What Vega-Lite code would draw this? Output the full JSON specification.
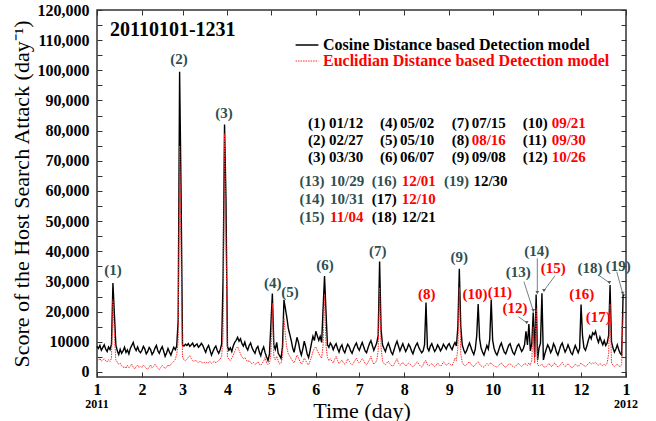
{
  "$schema": "https://vega.github.io/schema/vega-lite/v6.json",
  "width": 529,
  "height": 367,
  "autosize": {"type": "none"},
  "padding": {"left": 97, "top": 10, "right": 30, "bottom": 44},
  "background": "white",
  "config": {
    "view": {"stroke": "#333333", "strokeWidth": 1.5},
    "font": "Liberation Serif",
    "axis": {"domain": false, "grid": false, "tickColor": "#333333", "tickWidth": 1, "labelColor": "#000000", "titleColor": "#000000", "labelFont": "Liberation Serif", "titleFont": "Liberation Serif", "labelFontWeight": "bold", "labelFontSize": 16}
  },
  "datasets": {
    "series": [
{"day":0,"cos":8500,"euc":4200},{"day":1,"cos":7800,"euc":3800},{"day":2,"cos":8800,"euc":4500},{"day":3,"cos":7200,"euc":3600},{"day":4,"cos":8100,"euc":4000},{"day":5,"cos":9000,"euc":4400},{"day":6,"cos":7600,"euc":3700},{"day":7,"cos":6800,"euc":3300},{"day":8,"cos":8300,"euc":4100},{"day":9,"cos":7400,"euc":3500},
{"day":10,"cos":9200,"euc":4600},{"day":11,"cos":29500,"euc":24000},{"day":12,"cos":19000,"euc":12000},{"day":13,"cos":9000,"euc":4000},{"day":14,"cos":7000,"euc":3200},{"day":15,"cos":5800,"euc":2600},{"day":16,"cos":7500,"euc":2900},{"day":17,"cos":6200,"euc":2000},{"day":18,"cos":7000,"euc":1500},{"day":19,"cos":8200,"euc":1800},
{"day":20,"cos":6500,"euc":1200},{"day":21,"cos":7300,"euc":2200},{"day":22,"cos":6000,"euc":1400},{"day":23,"cos":7800,"euc":1900},{"day":24,"cos":8800,"euc":2600},{"day":25,"cos":9800,"euc":1600},{"day":26,"cos":8000,"euc":1000},{"day":27,"cos":7100,"euc":1800},{"day":28,"cos":8300,"euc":2300},{"day":29,"cos":7000,"euc":1500},
{"day":30,"cos":6400,"euc":2000},{"day":31,"cos":7200,"euc":1500},{"day":32,"cos":8500,"euc":2300},{"day":33,"cos":7600,"euc":1800},{"day":34,"cos":6000,"euc":1200},{"day":35,"cos":6800,"euc":900},{"day":36,"cos":8100,"euc":1600},{"day":37,"cos":7400,"euc":2400},{"day":38,"cos":5800,"euc":1300},{"day":39,"cos":6600,"euc":1800},
{"day":40,"cos":7900,"euc":2600},{"day":41,"cos":8800,"euc":2000},{"day":42,"cos":7000,"euc":1200},{"day":43,"cos":6200,"euc":800},{"day":44,"cos":7500,"euc":1500},{"day":45,"cos":8400,"euc":2200},{"day":46,"cos":6900,"euc":1700},{"day":47,"cos":5200,"euc":1100},{"day":48,"cos":6300,"euc":1600},{"day":49,"cos":7800,"euc":2400},
{"day":50,"cos":6600,"euc":1900},{"day":51,"cos":5600,"euc":2600},{"day":52,"cos":7000,"euc":3000},{"day":53,"cos":8200,"euc":3500},{"day":54,"cos":7400,"euc":4200},{"day":55,"cos":8600,"euc":5800},{"day":56,"cos":17000,"euc":10000},{"day":57,"cos":99500,"euc":75000},{"day":58,"cos":60000,"euc":41000},{"day":59,"cos":9000,"euc":5000},
{"day":60,"cos":8600,"euc":4000},{"day":61,"cos":9200,"euc":3700},{"day":62,"cos":8800,"euc":4200},{"day":63,"cos":9400,"euc":4800},{"day":64,"cos":8500,"euc":5400},{"day":65,"cos":9000,"euc":4500},{"day":66,"cos":9600,"euc":3800},{"day":67,"cos":8400,"euc":3500},{"day":68,"cos":8900,"euc":4000},{"day":69,"cos":9300,"euc":3400},
{"day":70,"cos":8200,"euc":3100},{"day":71,"cos":8700,"euc":3600},{"day":72,"cos":9500,"euc":3300},{"day":73,"cos":8800,"euc":3000},{"day":74,"cos":7600,"euc":3200},{"day":75,"cos":6500,"euc":2900},{"day":76,"cos":8000,"euc":3300},{"day":77,"cos":8800,"euc":3100},{"day":78,"cos":7200,"euc":3500},{"day":79,"cos":5600,"euc":2800},
{"day":80,"cos":6800,"euc":3200},{"day":81,"cos":7900,"euc":3600},{"day":82,"cos":8600,"euc":3000},{"day":83,"cos":7100,"euc":3400},{"day":84,"cos":6200,"euc":3900},{"day":85,"cos":7400,"euc":4200},{"day":86,"cos":9200,"euc":5200},{"day":87,"cos":31000,"euc":12000},{"day":88,"cos":82000,"euc":79000},{"day":89,"cos":57000,"euc":45000},
{"day":90,"cos":8500,"euc":5000},{"day":91,"cos":7200,"euc":4200},{"day":92,"cos":8000,"euc":3800},{"day":93,"cos":6800,"euc":4600},{"day":94,"cos":8600,"euc":5500},{"day":95,"cos":9800,"euc":6800},{"day":96,"cos":10500,"euc":7800},{"day":97,"cos":11500,"euc":8400},{"day":98,"cos":10200,"euc":7200},{"day":99,"cos":11000,"euc":6000},
{"day":100,"cos":9400,"euc":5000},{"day":101,"cos":8600,"euc":4400},{"day":102,"cos":9900,"euc":4800},{"day":103,"cos":8100,"euc":4000},{"day":104,"cos":7300,"euc":3400},{"day":105,"cos":8800,"euc":3800},{"day":106,"cos":9600,"euc":3100},{"day":107,"cos":8000,"euc":2700},{"day":108,"cos":7000,"euc":3200},{"day":109,"cos":6200,"euc":2500},
{"day":110,"cos":7800,"euc":2800},{"day":111,"cos":8500,"euc":3400},{"day":112,"cos":6600,"euc":2600},{"day":113,"cos":5400,"euc":2200},{"day":114,"cos":7200,"euc":2900},{"day":115,"cos":8300,"euc":3600},{"day":116,"cos":6400,"euc":4800},{"day":117,"cos":5000,"euc":3000},{"day":118,"cos":3800,"euc":2400},{"day":119,"cos":6000,"euc":2800},
{"day":120,"cos":16000,"euc":6000},{"day":121,"cos":26000,"euc":22800},{"day":122,"cos":9000,"euc":5000},{"day":123,"cos":7500,"euc":4000},{"day":124,"cos":9800,"euc":5200},{"day":125,"cos":6200,"euc":3800},{"day":126,"cos":5400,"euc":2600},{"day":127,"cos":4500,"euc":3000},{"day":128,"cos":8500,"euc":5000},{"day":129,"cos":23900,"euc":17800},
{"day":130,"cos":21000,"euc":12000},{"day":131,"cos":18000,"euc":8000},{"day":132,"cos":14500,"euc":6000},{"day":133,"cos":12500,"euc":5200},{"day":134,"cos":10500,"euc":4400},{"day":135,"cos":8000,"euc":3600},{"day":136,"cos":6500,"euc":3000},{"day":137,"cos":9000,"euc":4200},{"day":138,"cos":11500,"euc":5600},{"day":139,"cos":9800,"euc":4800},
{"day":140,"cos":7200,"euc":3400},{"day":141,"cos":5600,"euc":2600},{"day":142,"cos":7600,"euc":3200},{"day":143,"cos":10200,"euc":4600},{"day":144,"cos":8400,"euc":3800},{"day":145,"cos":6000,"euc":2800},{"day":146,"cos":4800,"euc":2400},{"day":147,"cos":7000,"euc":3600},{"day":148,"cos":9600,"euc":5000},{"day":149,"cos":11800,"euc":6800},
{"day":150,"cos":10400,"euc":7800},{"day":151,"cos":13500,"euc":8400},{"day":152,"cos":12000,"euc":7000},{"day":153,"cos":10500,"euc":6200},{"day":154,"cos":11800,"euc":5200},{"day":155,"cos":9800,"euc":4600},{"day":156,"cos":21000,"euc":9000},{"day":157,"cos":31800,"euc":25900},{"day":158,"cos":20000,"euc":9000},{"day":159,"cos":9000,"euc":4800},
{"day":160,"cos":8200,"euc":3800},{"day":161,"cos":9600,"euc":4400},{"day":162,"cos":8800,"euc":3600},{"day":163,"cos":7400,"euc":3000},{"day":164,"cos":8600,"euc":4200},{"day":165,"cos":9400,"euc":5200},{"day":166,"cos":7800,"euc":3800},{"day":167,"cos":6600,"euc":2800},{"day":168,"cos":8200,"euc":3400},{"day":169,"cos":9000,"euc":4000},
{"day":170,"cos":7200,"euc":3000},{"day":171,"cos":6400,"euc":2600},{"day":172,"cos":8000,"euc":3200},{"day":173,"cos":9200,"euc":4400},{"day":174,"cos":8400,"euc":3600},{"day":175,"cos":7000,"euc":2800},{"day":176,"cos":6200,"euc":2400},{"day":177,"cos":7600,"euc":3000},{"day":178,"cos":8800,"euc":3800},{"day":179,"cos":9600,"euc":4600},
{"day":180,"cos":8000,"euc":3600},{"day":181,"cos":7200,"euc":3000},{"day":182,"cos":8600,"euc":3600},{"day":183,"cos":9800,"euc":4400},{"day":184,"cos":8400,"euc":3800},{"day":185,"cos":7000,"euc":2800},{"day":186,"cos":6400,"euc":2400},{"day":187,"cos":8000,"euc":3200},{"day":188,"cos":9400,"euc":4000},{"day":189,"cos":10400,"euc":5200},
{"day":190,"cos":8800,"euc":3600},{"day":191,"cos":7200,"euc":2600},{"day":192,"cos":8400,"euc":3000},{"day":193,"cos":9600,"euc":3800},{"day":194,"cos":12000,"euc":7000},{"day":195,"cos":36600,"euc":28000},{"day":196,"cos":14000,"euc":8000},{"day":197,"cos":9000,"euc":3600},{"day":198,"cos":7800,"euc":2800},{"day":199,"cos":6800,"euc":2400},
{"day":200,"cos":8400,"euc":3000},{"day":201,"cos":9600,"euc":3600},{"day":202,"cos":8200,"euc":2800},{"day":203,"cos":6600,"euc":2200},{"day":204,"cos":5800,"euc":1900},{"day":205,"cos":7400,"euc":2600},{"day":206,"cos":9000,"euc":3400},{"day":207,"cos":10200,"euc":4400},{"day":208,"cos":8600,"euc":3000},{"day":209,"cos":7000,"euc":2200},
{"day":210,"cos":8200,"euc":2600},{"day":211,"cos":9400,"euc":3200},{"day":212,"cos":8000,"euc":2600},{"day":213,"cos":6800,"euc":2000},{"day":214,"cos":7800,"euc":2400},{"day":215,"cos":9200,"euc":3000},{"day":216,"cos":8400,"euc":2600},{"day":217,"cos":7000,"euc":2000},{"day":218,"cos":6000,"euc":1700},{"day":219,"cos":7600,"euc":2200},
{"day":220,"cos":8800,"euc":2800},{"day":221,"cos":9600,"euc":3400},{"day":222,"cos":8200,"euc":2600},{"day":223,"cos":7200,"euc":2000},{"day":224,"cos":6400,"euc":1600},{"day":225,"cos":7000,"euc":2200},{"day":226,"cos":9000,"euc":3500},{"day":227,"cos":23000,"euc":3800},{"day":228,"cos":8000,"euc":2400},{"day":229,"cos":7000,"euc":2000},
{"day":230,"cos":8600,"euc":2400},{"day":231,"cos":9400,"euc":2800},{"day":232,"cos":8000,"euc":2200},{"day":233,"cos":6800,"euc":1800},{"day":234,"cos":7600,"euc":2200},{"day":235,"cos":9000,"euc":3000},{"day":236,"cos":8200,"euc":2400},{"day":237,"cos":7000,"euc":1900},{"day":238,"cos":7800,"euc":2400},{"day":239,"cos":9200,"euc":3400},
{"day":240,"cos":8400,"euc":2800},{"day":241,"cos":7600,"euc":2200},{"day":242,"cos":8800,"euc":2600},{"day":243,"cos":9400,"euc":3000},{"day":244,"cos":8200,"euc":2400},{"day":245,"cos":7400,"euc":2200},{"day":246,"cos":8800,"euc":3200},{"day":247,"cos":9800,"euc":4600},{"day":248,"cos":8600,"euc":3800},{"day":249,"cos":15000,"euc":8000},
{"day":250,"cos":34200,"euc":28000},{"day":251,"cos":15000,"euc":6000},{"day":252,"cos":9000,"euc":3200},{"day":253,"cos":7400,"euc":2400},{"day":254,"cos":6200,"euc":2000},{"day":255,"cos":7000,"euc":2400},{"day":256,"cos":8400,"euc":3000},{"day":257,"cos":9600,"euc":3400},{"day":258,"cos":8200,"euc":2600},{"day":259,"cos":6800,"euc":2000},
{"day":260,"cos":5800,"euc":1800},{"day":261,"cos":7600,"euc":2400},{"day":262,"cos":12000,"euc":3000},{"day":263,"cos":22500,"euc":3400},{"day":264,"cos":11000,"euc":2600},{"day":265,"cos":8000,"euc":2000},{"day":266,"cos":6600,"euc":1800},{"day":267,"cos":5600,"euc":1600},{"day":268,"cos":7200,"euc":2200},{"day":269,"cos":8800,"euc":2800},
{"day":270,"cos":7600,"euc":2200},{"day":271,"cos":11000,"euc":2800},{"day":272,"cos":23900,"euc":3000},{"day":273,"cos":10500,"euc":2400},{"day":274,"cos":7800,"euc":2000},{"day":275,"cos":6400,"euc":1800},{"day":276,"cos":5600,"euc":1600},{"day":277,"cos":7000,"euc":2000},{"day":278,"cos":8600,"euc":2600},{"day":279,"cos":9600,"euc":3000},
{"day":280,"cos":8000,"euc":2400},{"day":281,"cos":6600,"euc":1800},{"day":282,"cos":6000,"euc":1600},{"day":283,"cos":7400,"euc":2000},{"day":284,"cos":8800,"euc":2600},{"day":285,"cos":9400,"euc":2800},{"day":286,"cos":7800,"euc":2200},{"day":287,"cos":6400,"euc":1800},{"day":288,"cos":5800,"euc":1600},{"day":289,"cos":7200,"euc":2000},
{"day":290,"cos":8600,"euc":2600},{"day":291,"cos":9200,"euc":2800},{"day":292,"cos":8000,"euc":2200},{"day":293,"cos":6800,"euc":1800},{"day":294,"cos":7600,"euc":2200},{"day":295,"cos":9000,"euc":2800},{"day":296,"cos":13500,"euc":2600},{"day":297,"cos":9000,"euc":2200},{"day":298,"cos":15900,"euc":3000},{"day":299,"cos":7000,"euc":2200},
{"day":300,"cos":9500,"euc":4000},{"day":301,"cos":19700,"euc":15000},{"day":302,"cos":5000,"euc":3000},{"day":303,"cos":25700,"euc":21000},{"day":304,"cos":4000,"euc":2400},{"day":305,"cos":8000,"euc":2000},{"day":306,"cos":9500,"euc":2200},{"day":307,"cos":26100,"euc":2600},{"day":308,"cos":4000,"euc":1800},{"day":309,"cos":6000,"euc":1600},
{"day":310,"cos":7600,"euc":1800},{"day":311,"cos":9000,"euc":2400},{"day":312,"cos":8000,"euc":2800},{"day":313,"cos":6400,"euc":2000},{"day":314,"cos":7400,"euc":1800},{"day":315,"cos":9400,"euc":2600},{"day":316,"cos":8400,"euc":3000},{"day":317,"cos":6600,"euc":2200},{"day":318,"cos":5600,"euc":1600},{"day":319,"cos":7200,"euc":2000},
{"day":320,"cos":8800,"euc":2600},{"day":321,"cos":9600,"euc":3200},{"day":322,"cos":8000,"euc":2400},{"day":323,"cos":6600,"euc":1800},{"day":324,"cos":7600,"euc":2200},{"day":325,"cos":9000,"euc":2800},{"day":326,"cos":7800,"euc":2200},{"day":327,"cos":6400,"euc":1600},{"day":328,"cos":5800,"euc":1400},{"day":329,"cos":7400,"euc":2000},
{"day":330,"cos":8800,"euc":2600},{"day":331,"cos":7600,"euc":2200},{"day":332,"cos":6400,"euc":1800},{"day":333,"cos":7800,"euc":2400},{"day":334,"cos":22400,"euc":3000},{"day":335,"cos":12000,"euc":2400},{"day":336,"cos":8000,"euc":2200},{"day":337,"cos":7200,"euc":1800},{"day":338,"cos":8600,"euc":2200},{"day":339,"cos":10500,"euc":2800},
{"day":340,"cos":12000,"euc":3200},{"day":341,"cos":11000,"euc":2600},{"day":342,"cos":13000,"euc":3000},{"day":343,"cos":12400,"euc":2800},{"day":344,"cos":13500,"euc":3200},{"day":345,"cos":11200,"euc":2600},{"day":346,"cos":9800,"euc":2200},{"day":347,"cos":11600,"euc":2800},{"day":348,"cos":10200,"euc":2400},{"day":349,"cos":9000,"euc":2000},
{"day":350,"cos":10400,"euc":2600},{"day":351,"cos":8800,"euc":2200},{"day":352,"cos":9600,"euc":3000},{"day":353,"cos":12000,"euc":6000},{"day":354,"cos":28800,"euc":22500},{"day":355,"cos":10000,"euc":3000},{"day":356,"cos":8000,"euc":2200},{"day":357,"cos":6600,"euc":1800},{"day":358,"cos":7600,"euc":2200},{"day":359,"cos":9000,"euc":2600},
{"day":360,"cos":7400,"euc":2000},{"day":361,"cos":6200,"euc":1800},{"day":362,"cos":5600,"euc":2400},{"day":363,"cos":25500,"euc":19700},{"day":364,"cos":25500,"euc":19700}
    ],
    "peaks": [
      {"x":11.0,"y":33800,"text":"(1)","status":"detected"},
      {"x":56.6,"y":103800,"text":"(2)","status":"detected"},
      {"x":87.6,"y":85900,"text":"(3)","status":"detected"},
      {"x":121.2,"y":29500,"text":"(4)","status":"detected"},
      {"x":133.2,"y":26500,"text":"(5)","status":"detected"},
      {"x":157.3,"y":35500,"text":"(6)","status":"detected"},
      {"x":193.7,"y":40200,"text":"(7)","status":"detected"},
      {"x":227.5,"y":25800,"text":"(8)","status":"missed"},
      {"x":250.0,"y":38000,"text":"(9)","status":"detected"},
      {"x":260.8,"y":25800,"text":"(10)","status":"missed"},
      {"x":278.0,"y":26600,"text":"(11)","status":"missed"},
      {"x":288.4,"y":21100,"text":"(12)","status":"missed"},
      {"x":290.7,"y":33200,"text":"(13)","status":"detected"},
      {"x":303.4,"y":40200,"text":"(14)","status":"detected"},
      {"x":314.8,"y":34400,"text":"(15)","status":"missed"},
      {"x":334.4,"y":25800,"text":"(16)","status":"missed"},
      {"x":345.9,"y":18100,"text":"(17)","status":"missed"},
      {"x":340.2,"y":34600,"text":"(18)","status":"detected"},
      {"x":359.7,"y":35100,"text":"(19)","status":"detected"}
    ],
    "arrows": [
      {"x":290.7,"y":18330,"x2":296.5,"y2":16340},
      {"x":294.6,"y":29930,"x2":301.0,"y2":20320},
      {"x":303.8,"y":37690,"x2":303.8,"y2":26290},
      {"x":316.0,"y":31920,"x2":308.4,"y2":26950},
      {"x":345.9,"y":32160,"x2":353.5,"y2":29600},
      {"x":358.6,"y":33250,"x2":362.7,"y2":26090}
    ],
    "dates": [
      {"x":145.6,"y":82440,"text":"(1)","status":"plain"},
      {"x":160.1,"y":82440,"text":"01/12","status":"plain"},
      {"x":145.6,"y":76910,"text":"(2)","status":"plain"},
      {"x":160.1,"y":76910,"text":"02/27","status":"plain"},
      {"x":145.6,"y":71370,"text":"(3)","status":"plain"},
      {"x":160.1,"y":71370,"text":"03/30","status":"plain"},
      {"x":195.3,"y":82440,"text":"(4)","status":"plain"},
      {"x":209.1,"y":82440,"text":"05/02","status":"plain"},
      {"x":195.3,"y":76910,"text":"(5)","status":"plain"},
      {"x":209.1,"y":76910,"text":"05/10","status":"plain"},
      {"x":195.3,"y":71370,"text":"(6)","status":"plain"},
      {"x":209.1,"y":71370,"text":"06/07","status":"plain"},
      {"x":244.7,"y":82440,"text":"(7)","status":"plain"},
      {"x":258.5,"y":82440,"text":"07/15","status":"plain"},
      {"x":244.7,"y":76910,"text":"(8)","status":"plain"},
      {"x":258.5,"y":76910,"text":"08/16","status":"missed"},
      {"x":244.7,"y":71370,"text":"(9)","status":"plain"},
      {"x":258.5,"y":71370,"text":"09/08","status":"plain"},
      {"x":293.7,"y":82440,"text":"(10)","status":"plain"},
      {"x":313.7,"y":82440,"text":"09/21","status":"missed"},
      {"x":293.7,"y":76910,"text":"(11)","status":"plain"},
      {"x":313.7,"y":76910,"text":"09/30","status":"missed"},
      {"x":293.7,"y":71370,"text":"(12)","status":"plain"},
      {"x":313.7,"y":71370,"text":"10/26","status":"missed"},
      {"x":139.7,"y":63320,"text":"(13)","status":"detected"},
      {"x":160.8,"y":63320,"text":"10/29","status":"detected"},
      {"x":139.7,"y":57250,"text":"(14)","status":"detected"},
      {"x":160.8,"y":57250,"text":"10/31","status":"detected"},
      {"x":139.7,"y":51480,"text":"(15)","status":"detected"},
      {"x":160.8,"y":51480,"text":"11/04","status":"missed"},
      {"x":189.5,"y":63320,"text":"(16)","status":"detected"},
      {"x":210.2,"y":63320,"text":"12/01","status":"missed"},
      {"x":189.5,"y":57250,"text":"(17)","status":"plain"},
      {"x":210.2,"y":57250,"text":"12/10","status":"missed"},
      {"x":189.5,"y":51480,"text":"(18)","status":"plain"},
      {"x":210.2,"y":51480,"text":"12/21","status":"plain"},
      {"x":239.4,"y":63320,"text":"(19)","status":"detected"},
      {"x":259.7,"y":63320,"text":"12/30","status":"plain"}
    ],
    "title": [{"x":9,"y":113400,"text":"20110101-1231"}],
    "years": [{"day":0,"text":"2011"},{"day":365,"text":"2012"}]
  },
  "resolve": {"scale": {"color": "independent"}, "axis": {"x": "independent", "y": "independent"}},
  "layer": [
    {
      "data": {"name": "series"},
      "transform": [{"fold": ["cos", "euc"], "as": ["model", "score"]}],
      "mark": {"type": "line", "interpolate": "linear"},
      "encoding": {
        "x": {"field": "day", "type": "quantitative", "scale": {"domain": [0, 365], "nice": false, "zero": false},
          "axis": {"orient": "bottom", "values": [0,31,59,90,120,151,181,212,243,273,304,334,365],
            "labelExpr": "indexof([0,31,59,90,120,151,181,212,243,273,304,334,365], datum.value) % 12 + 1",
            "tickSize": -5, "labelPadding": 9, "labelFontSize": 16, "labelFontWeight": "bold", "labelFlush": false,
            "title": "Time (day)", "titleFontSize": 22, "titleFontWeight": "normal", "titlePadding": 3}},
        "y": {"field": "score", "type": "quantitative", "scale": {"domain": [-1660, 120000], "nice": false, "zero": false},
          "axis": {"orient": "left", "values": [0,5000,10000,15000,20000,25000,30000,35000,40000,45000,50000,55000,60000,65000,70000,75000,80000,85000,90000,95000,100000,105000,110000,115000,120000],
            "labelExpr": "datum.value % 10000 != 0 ? '' : (datum.value == 10000 ? '10000' : format(datum.value, ','))",
            "tickSize": -5, "labelPadding": 13, "labelFontSize": 16, "labelFontWeight": "bold", "labelFlush": false,
            "title": "Score of the Host Search Attack (day⁻¹)", "titleFontSize": 22, "titleFontWeight": "normal", "titlePadding": 4}},
        "color": {"field": "model", "type": "nominal", "scale": {"domain": ["cos", "euc"], "range": ["#000000", "#ff2a2a"]},
          "legend": {"orient": "none", "legendX": 202, "legendY": 27, "title": null, "symbolType": "stroke", "symbolSize": 520,
            "symbolStrokeWidth": 1.5, "labelFont": "Liberation Serif", "labelFontWeight": "bold", "labelFontSize": 16,
            "labelOffset": 8, "rowPadding": -4, "labelLimit": 0,
            "labelExpr": "datum.value == 'cos' ? 'Cosine Distance based Detection model' : 'Euclidian Distance based Detection model'",
            "encode": {"labels": {"update": {"fill": {"signal": "datum.value == 'euc' ? '#ff0000' : '#000000'"}}},
                       "symbols": {"update": {"strokeDash": {"signal": "datum.value == 'euc' ? [1.5, 1] : [1, 0]"}, "strokeWidth": {"signal": "datum.value == 'euc' ? 1 : 1.5"}}}}}},
        "strokeDash": {"field": "model", "type": "nominal", "scale": {"domain": ["cos", "euc"], "range": [[1, 0], [1.5, 1]]}, "legend": null},
        "strokeWidth": {"field": "model", "type": "nominal", "scale": {"domain": ["cos", "euc"], "range": [1.4, 1.0]}, "legend": null}
      }
    },
    {
      "data": {"name": "arrows"},
      "mark": {"type": "rule", "color": "#4a6464", "strokeWidth": 0.8},
      "encoding": {
        "x": {"field": "x", "type": "quantitative", "scale": {"domain": [0, 365], "nice": false, "zero": false},
          "axis": {"orient": "top", "values": [0,31,59,90,120,151,181,212,243,273,304,334,365], "labels": false, "tickSize": -5, "title": null}},
        "y": {"field": "y", "type": "quantitative", "scale": {"domain": [-1660, 120000], "nice": false, "zero": false},
          "axis": {"orient": "right", "values": [0,5000,10000,15000,20000,25000,30000,35000,40000,45000,50000,55000,60000,65000,70000,75000,80000,85000,90000,95000,100000,105000,110000,115000,120000], "labels": false, "tickSize": -5, "title": null}},
        "x2": {"field": "x2"},
        "y2": {"field": "y2"}
      }
    },
    {
      "data": {"name": "arrows"},
      "mark": {"type": "point", "shape": "triangle-down", "filled": true, "size": 14, "color": "#4a6464", "opacity": 1},
      "encoding": {
        "x": {"field": "x2", "type": "quantitative", "scale": {"domain": [0, 365], "nice": false, "zero": false}, "axis": null},
        "y": {"field": "y2", "type": "quantitative", "scale": {"domain": [-1660, 120000], "nice": false, "zero": false}, "axis": null}
      }
    },
    {
      "data": {"name": "peaks"},
      "mark": {"type": "text", "font": "Liberation Serif", "fontSize": 15, "fontWeight": "bold", "align": "center", "baseline": "middle"},
      "encoding": {
        "x": {"field": "x", "type": "quantitative", "scale": {"domain": [0, 365], "nice": false, "zero": false}, "axis": null},
        "y": {"field": "y", "type": "quantitative", "scale": {"domain": [-1660, 120000], "nice": false, "zero": false}, "axis": null},
        "text": {"field": "text"},
        "color": {"field": "status", "type": "nominal", "scale": {"domain": ["plain", "detected", "missed"], "range": ["#000000", "#2f4f4f", "#ff0000"]}, "legend": null}
      }
    },
    {
      "data": {"name": "dates"},
      "mark": {"type": "text", "font": "Liberation Serif", "fontSize": 15, "fontWeight": "bold", "align": "left", "baseline": "middle"},
      "encoding": {
        "x": {"field": "x", "type": "quantitative", "scale": {"domain": [0, 365], "nice": false, "zero": false}, "axis": null},
        "y": {"field": "y", "type": "quantitative", "scale": {"domain": [-1660, 120000], "nice": false, "zero": false}, "axis": null},
        "text": {"field": "text"},
        "color": {"field": "status", "type": "nominal", "scale": {"domain": ["plain", "detected", "missed"], "range": ["#000000", "#2f4f4f", "#ff0000"]}, "legend": null}
      }
    },
    {
      "data": {"name": "title"},
      "mark": {"type": "text", "font": "Liberation Serif", "fontSize": 20, "fontWeight": "bold", "align": "left", "baseline": "middle", "color": "#000000"},
      "encoding": {
        "x": {"field": "x", "type": "quantitative", "scale": {"domain": [0, 365], "nice": false, "zero": false}, "axis": null},
        "y": {"field": "y", "type": "quantitative", "scale": {"domain": [-1660, 120000], "nice": false, "zero": false}, "axis": null},
        "text": {"field": "text"}
      }
    },
    {
      "data": {"name": "years"},
      "mark": {"type": "text", "font": "Liberation Serif", "fontSize": 12, "fontWeight": "bold", "align": "center", "baseline": "middle", "dy": 27, "color": "#000000"},
      "encoding": {
        "x": {"field": "day", "type": "quantitative", "scale": {"domain": [0, 365], "nice": false, "zero": false}, "axis": null},
        "y": {"datum": -1660, "type": "quantitative", "scale": {"domain": [-1660, 120000], "nice": false, "zero": false}, "axis": null},
        "text": {"field": "text"}
      }
    }
  ]
}
